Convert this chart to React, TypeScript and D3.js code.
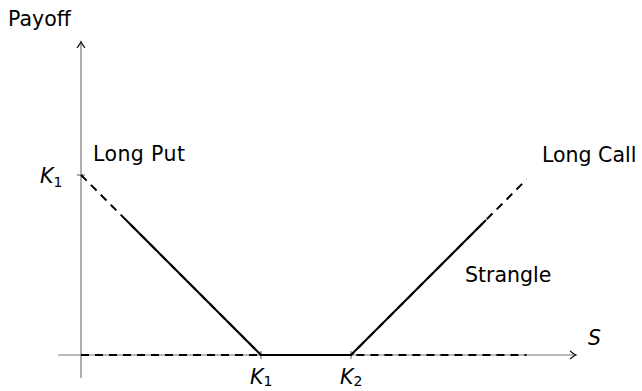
import React from "react";
import * as d3 from "d3";

// ---- data ----
const strikeLabels = ["K₁", "K₂"];
const strikes = [2, 3]; // K1, K2 on the S axis
const putS = [0, 2, 4.95];
const putPayoff = [2, 0, 0];
const callS = [0, 3, 4.95];
const callPayoff = [0, 0, 1.95];
const strangleS = [0.5, 2, 3, 4.5];
const stranglePayoff = [1.5, 0, 0, 1.5];
const yTickValue = 2; // K1 on payoff axis
const seriesLabels = ["Long Put", "Long Call", "Strangle"];

const W = 642;
const H = 391;

export default function App() {
  const x = d3.scaleLinear().domain([0, 5]).range([81, 531]);
  const y = d3.scaleLinear().domain([0, 2]).range([355, 175]);
  const line = d3
    .line<[number, number]>()
    .x((d) => x(d[0]))
    .y((d) => y(d[1]));
  const zip = (a: number[], b: number[]) => a.map((v, i) => [v, b[i]] as [number, number]);

  const axisColor = "#777";
  const font = "'DejaVu Sans', sans-serif";
  const fs = 20.5;

  const xAxisStart = x(-0.255);
  const xAxisEnd = x(5.5);
  const yAxisBottom = y(-0.255);
  const yAxisTop = y(3.48);

  const arrow = (tx: number, ty: number, dir: "right" | "up") => {
    if (dir === "right")
      return `M${tx - 6},${ty - 4} Q${tx - 2.5},${ty - 1} ${tx},${ty} Q${tx - 2.5},${ty + 1} ${tx - 6},${ty + 4}`;
    return `M${tx - 4},${ty + 6} Q${tx - 1},${ty + 2.5} ${tx},${ty} Q${tx + 1},${ty + 2.5} ${tx + 4},${ty + 6}`;
  };

  const K = (label: string, px: number, py: number, key: string, subDy: number) => {
    const sub = label === "K₁" ? "1" : "2";
    return (
      <text key={key} x={px} y={py} fontFamily={font} fontSize={fs} fill="#000">
        <tspan fontStyle="italic">K</tspan>
        <tspan fontSize={14} dy={subDy}>
          {sub}
        </tspan>
      </text>
    );
  };

  return (
    <svg
      width={W}
      height={H}
      style={{ position: "absolute", left: 0, top: 0, background: "#fff" }}
    >
      {/* axes */}
      <line x1={xAxisStart} y1={y(0)} x2={xAxisEnd - 0.5} y2={y(0)} stroke={axisColor} strokeWidth={1.2} />
      <line x1={x(0)} y1={yAxisBottom} x2={x(0)} y2={yAxisTop + 0.5} stroke={axisColor} strokeWidth={1.2} />
      <path d={arrow(xAxisEnd, y(0), "right")} fill="none" stroke="#111" strokeWidth={1.2} />
      <path d={arrow(x(0), yAxisTop, "up")} fill="none" stroke="#111" strokeWidth={1.2} />

      {/* ticks */}
      {strikes.map((s, i) => (
        <line key={"xt" + i} x1={x(s)} x2={x(s)} y1={y(0) - 4} y2={y(0) + 4} stroke={axisColor} strokeWidth={1.2} />
      ))}
      <line x1={x(0) - 4} x2={x(0) + 4} y1={y(yTickValue)} y2={y(yTickValue)} stroke={axisColor} strokeWidth={1.2} />

      {/* dashed long put and long call */}
      <path d={line(zip(putS, putPayoff)) || ""} fill="none" stroke="#000" strokeWidth={2} strokeDasharray="8 6" />
      <path d={line(zip(callS, callPayoff)) || ""} fill="none" stroke="#000" strokeWidth={2} strokeDasharray="8 6" />

      {/* strangle */}
      <path d={line(zip(strangleS, stranglePayoff)) || ""} fill="none" stroke="#000" strokeWidth={2.1} strokeLinejoin="miter" />

      {/* labels */}
      <text x={8} y={26} fontFamily={font} fontSize={fs} fill="#000">Payoff</text>
      <text x={93} y={161} fontFamily={font} fontSize={fs} fill="#000" letterSpacing={0.4}>{seriesLabels[0]}</text>
      <text x={542} y={162} fontFamily={font} fontSize={fs} fill="#000">{seriesLabels[1]}</text>
      <text x={465} y={282} fontFamily={font} fontSize={fs} fill="#000">{seriesLabels[2]}</text>
      <text x={588} y={345} fontFamily={font} fontSize={fs} fontStyle="italic" fill="#000">S</text>

      {K(strikeLabels[0], 40, 183, "ky", 3.5)}
      {strikes.map((s, i) => K(strikeLabels[i], x(s) - 11, 384, "kx" + i, 2))}
    </svg>
  );
}
